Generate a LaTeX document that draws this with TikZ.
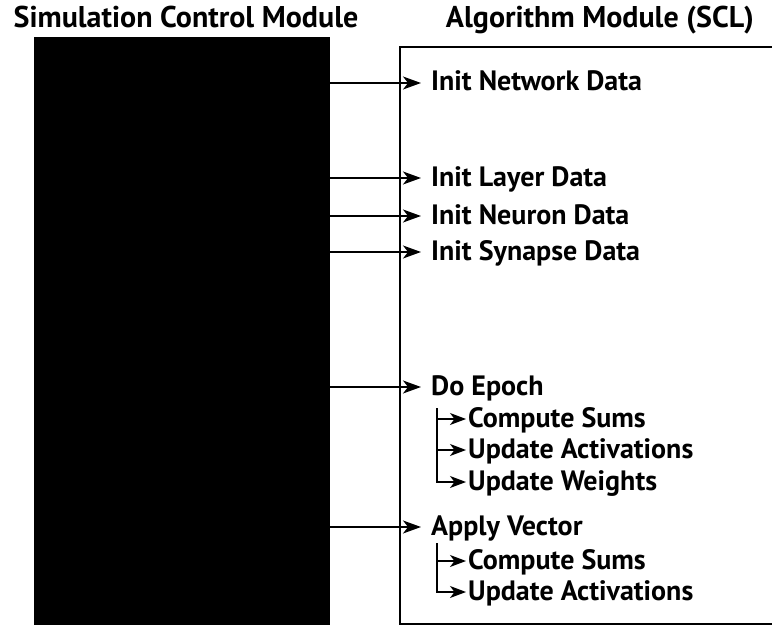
\documentclass[tikz,border=0pt]{standalone}
\usepackage{fontspec}
\setmainfont{PT Sans}
\usetikzlibrary{arrows.meta, calc, positioning}
\tikzset{
  every picture/.style={line cap=butt, line join=miter, font=\fontsize{28}{32}\selectfont\bfseries},
  heading/.style={anchor=base, inner sep=0pt, font=\fontsize{30}{34}\selectfont\bfseries},
  item/.style={anchor=base west, inner sep=0pt, yshift=-8pt},
  call/.style={-{Stealth[length=18pt, width=13pt, inset=5pt]}, line width=1.3pt, shorten >=10pt},
  subcall/.style={-{Stealth[length=16pt, width=12pt, inset=4.5pt]}, line width=1.3pt, shorten >=2pt},
}
\begin{document}
\begin{tikzpicture}[x=1pt, y=-1pt]
  \useasboundingbox (0,0) rectangle (772,626);
  % ---------- headings
  \node[heading] (hscm) at (186,28) {Simulation Control Module};
  \node[heading] (halg) at (600,28) {Algorithm Module (SCL)};
  % ---------- left: the control module, a solid block
  \node[fill=black, inner sep=0pt, minimum width=296pt, minimum height=588pt, anchor=north west] (scm) at (34,37) {};
  % ---------- right: the algorithm module, open on its right side
  \coordinate (algnw) at (400,47);
  \coordinate (algsw) at (400,624);
  \draw[line width=1.3pt] (772,47) -- (algnw) -- (algsw) -- (772,624);
  % calls from the control module (y is the height of the arrow)
  \foreach \n/\y/\t in {net/83/Init Network Data, lay/178/Init Layer Data, neu/216/Init Neuron Data,
                        syn/252/Init Synapse Data, epo/387/Do Epoch, app/527/Apply Vector}{
    \node[item] (\n) at (431,\y) {\t};
    \coordinate (\n-in) at ([yshift=8pt]\n.base west);
    \draw[call] (scm.east |- \n-in) -- (\n-in);
  }
  % steps inside an epoch and inside a vector
  \foreach \n/\y/\t in {epc/419/Compute Sums, epa/450/Update Activations, epw/482/Update Weights,
                        apc/561/Compute Sums, apa/592/Update Activations}{
    \node[item] (\n) at (468,\y) {\t};
    \coordinate (\n-in) at ([yshift=8pt]\n.base west);
  }
  \coordinate (epotop) at (437,408);
  \coordinate (apptop) at (437,543);
  \draw[subcall] (epotop) |- (epw-in);
  \draw[subcall] (epotop |- epc-in) -- (epc-in);
  \draw[subcall] (epotop |- epa-in) -- (epa-in);
  \draw[subcall] (apptop) |- (apa-in);
  \draw[subcall] (apptop |- apc-in) -- (apc-in);
\end{tikzpicture}
\end{document}
